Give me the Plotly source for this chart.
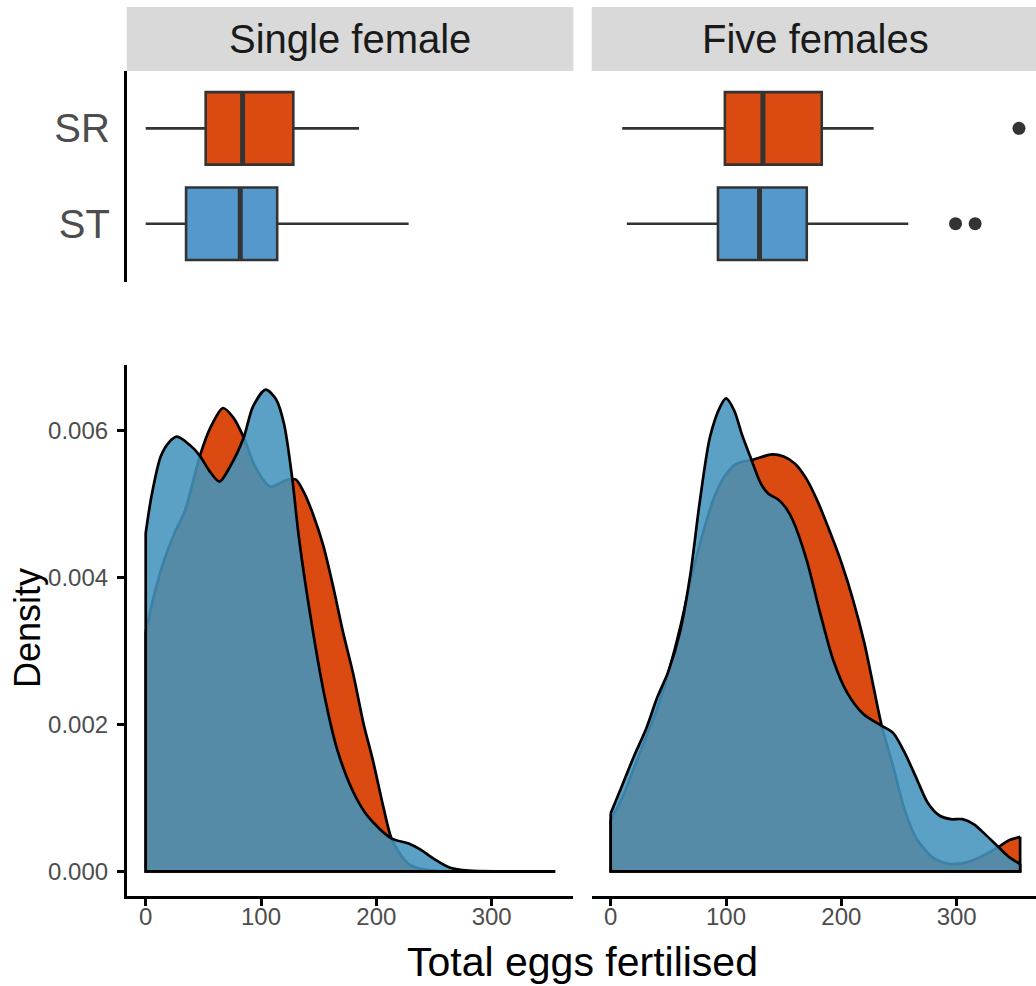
import plotly.graph_objects as go

# ---- data -----------------------------------------------------------------
groups = ["SR", "ST"]
facets = ["Single female", "Five females"]

# boxplot summaries (total eggs fertilised)
single_sr_box = dict(lowerfence=0, q1=52, median=84, q3=128, upperfence=185)
single_st_box = dict(lowerfence=0, q1=35, median=82, q3=114, upperfence=228)
five_sr_box = dict(lowerfence=10, q1=99, median=132, q3=183, upperfence=228)
five_st_box = dict(lowerfence=14, q1=93, median=129, q3=170, upperfence=258)
five_sr_outliers = [354]
five_st_outliers = [299, 316]

# kernel density estimates, single female
single_sr_x = [0, 8, 16, 25, 34, 47, 56, 67, 76, 85, 95, 108, 122, 130, 137, 145,
               154, 163, 171, 180, 189, 197, 206, 213, 220, 228, 240, 260, 300, 355]
single_sr_y = [0.00326, 0.0038, 0.00423, 0.0046, 0.0049, 0.00565, 0.00603, 0.0063,
               0.00617, 0.0059, 0.0055, 0.00523, 0.00532, 0.00533, 0.00516, 0.00486,
               0.00443, 0.00384, 0.00326, 0.00268, 0.0020, 0.00151, 0.00088, 0.00045,
               0.00025, 0.0001, 0.00003, 0.0, 0.0, 0.0]
single_st_x = [0, 5, 13, 20, 27, 38, 47, 55, 64, 73, 85, 93, 104, 113, 120, 127,
               133, 144, 155, 166, 180, 193, 213, 228, 238, 250, 264, 280, 310, 355]
single_st_y = [0.0046, 0.0051, 0.00564, 0.00583, 0.00591, 0.0058, 0.00565, 0.00545,
               0.0053, 0.0055, 0.0059, 0.00632, 0.00655, 0.00642, 0.00608, 0.00535,
               0.00452, 0.00336, 0.00239, 0.00166, 0.00108, 0.00074, 0.00045, 0.00038,
               0.0003, 0.00017, 0.00005, 0.00001, 0.0, 0.0]

# kernel density estimates, five females
five_sr_x = [0, 10, 20, 30, 40, 50, 60, 70, 80, 90, 100, 110, 124, 130, 140, 150,
             160, 170, 180, 190, 200, 210, 220, 228, 235, 245, 255, 265, 280, 295,
             310, 325, 338, 345, 355]
five_sr_y = [0.0007, 0.001, 0.0014, 0.0018, 0.0022, 0.0027, 0.0033, 0.004, 0.0046,
             0.0051, 0.0054, 0.00555, 0.0056, 0.00563, 0.00567, 0.00564, 0.00554,
             0.00533, 0.00501, 0.00462, 0.0042, 0.0037, 0.0031, 0.0025, 0.00198,
             0.00142, 0.00083, 0.00045, 0.00018, 0.0001, 0.00013, 0.00023, 0.00035,
             0.00042, 0.00047]
five_st_x = [0, 10, 20, 31, 40, 50, 60, 69, 77, 86, 95, 100, 107, 114, 121, 130, 137,
             145, 152, 158, 170, 181, 193, 205, 219, 235, 245, 255, 265, 275, 285,
             295, 305, 315, 325, 335, 345, 355]
five_st_y = [0.00079, 0.00117, 0.00156, 0.00195, 0.00235, 0.00272, 0.00325, 0.00403,
             0.005, 0.0059, 0.00632, 0.00643, 0.00627, 0.00593, 0.00564, 0.00528,
             0.00513, 0.00506, 0.00494, 0.00477, 0.00423, 0.00355, 0.00287, 0.00243,
             0.00214, 0.00198, 0.00188, 0.00161, 0.00127, 0.00093, 0.00076, 0.00071,
             0.00071, 0.00064, 0.0005, 0.00035, 0.0002, 0.0001]

# ---- style ----------------------------------------------------------------
W, H = 1036, 986
FONT = "Liberation Sans, Arial, Helvetica, sans-serif"
SR_FILL = "#DB4A10"
ST_FILL = "#5599CC"
ST_DENS = "rgba(67,148,189,0.88)"
OUTLINE = "#333333"
TXT = "#4D4D4D"
LW_BOX = 2.6
LW_DENS = 2.7


def px_x(p):
    return p / W


def px_y(p):
    return 1 - p / H


# panel geometry in pixels
LEFT = (126.7, 573.3)
RIGHT = (591.7, 1036.0)
BOX_ROW = (71.0, 282.0)
DENS_ROW = (365.0, 896.0)
STRIP_ROW = (7.0, 71.0)

PX_PER_UNIT = 1.1533
X0_LEFT, X0_RIGHT = 145.7, 610.7
left_range = [(LEFT[0] - X0_LEFT) / PX_PER_UNIT, (LEFT[1] - X0_LEFT) / PX_PER_UNIT]
right_range = [(RIGHT[0] - X0_RIGHT) / PX_PER_UNIT, (RIGHT[1] - X0_RIGHT) / PX_PER_UNIT]

Y_ZERO_PX, PX_PER_002 = 871.4, 147.1
dens_range = [-(DENS_ROW[1] - Y_ZERO_PX) / PX_PER_002 * 0.002,
              (Y_ZERO_PX - DENS_ROW[0]) / PX_PER_002 * 0.002]
box_range = [-0.611, 1.601]

fig = go.Figure()


def add_box(stats, group, fill, xa, ya):
    fig.add_trace(go.Box(
        y=[group], q1=[stats["q1"]], median=[stats["median"]], q3=[stats["q3"]],
        lowerfence=[stats["lowerfence"]], upperfence=[stats["upperfence"]],
        orientation="h", fillcolor=fill, line=dict(color=OUTLINE, width=LW_BOX),
        whiskerwidth=0, width=0.76, boxpoints=False, xaxis=xa, yaxis=ya,
        showlegend=False, hoverinfo="skip"))
    m = stats["median"]
    # heavier median bar
    fig.add_trace(go.Box(
        y=[group], q1=[m], median=[m], q3=[m], lowerfence=[m], upperfence=[m],
        orientation="h", fillcolor="rgba(0,0,0,0)", line=dict(color=OUTLINE, width=5),
        whiskerwidth=0, width=0.74, boxpoints=False, xaxis=xa, yaxis=ya,
        showlegend=False, hoverinfo="skip"))


def add_outliers(vals, group, xa, ya):
    fig.add_trace(go.Scatter(
        x=vals, y=[group] * len(vals), mode="markers",
        marker=dict(color=OUTLINE, size=13), xaxis=xa, yaxis=ya,
        showlegend=False, hoverinfo="skip"))


def add_density(xs, ys, fill, xa, ya):
    fig.add_trace(go.Scatter(
        x=xs, y=ys, mode="lines", fill="tozeroy", fillcolor=fill,
        line=dict(color="black", width=LW_DENS, shape="spline", smoothing=0.8),
        xaxis=xa, yaxis=ya, showlegend=False, hoverinfo="skip"))
    # closing edges and baseline of the density polygon
    fig.add_trace(go.Scatter(
        x=[xs[0], xs[0], xs[-1], xs[-1]], y=[ys[0], 0, 0, ys[-1]], mode="lines",
        line=dict(color="black", width=LW_DENS), xaxis=xa, yaxis=ya,
        showlegend=False, hoverinfo="skip"))


# boxplots
add_box(single_sr_box, "SR", SR_FILL, "x", "y")
add_box(single_st_box, "ST", ST_FILL, "x", "y")
add_box(five_sr_box, "SR", SR_FILL, "x2", "y2")
add_box(five_st_box, "ST", ST_FILL, "x2", "y2")
add_outliers(five_sr_outliers, "SR", "x2", "y2")
add_outliers(five_st_outliers, "ST", "x2", "y2")

# densities
add_density(single_sr_x, single_sr_y, SR_FILL, "x3", "y3")
add_density(single_st_x, single_st_y, ST_DENS, "x3", "y3")
add_density(five_sr_x, five_sr_y, SR_FILL, "x4", "y4")
add_density(five_st_x, five_st_y, ST_DENS, "x4", "y4")

hidden = dict(showline=False, showgrid=False, zeroline=False, showticklabels=False,
              ticks="")
axis_line = dict(showline=True, linecolor="black", linewidth=2.6, showgrid=False,
                 zeroline=False)
xtick = dict(tickvals=[0, 100, 200, 300], ticks="outside", ticklen=7, tickwidth=2.6,
             tickcolor="black", tickfont=dict(size=24, color=TXT), ticklabelstandoff=-10)

layout = dict(
    width=W, height=H, margin=dict(l=0, r=0, t=0, b=0),
    paper_bgcolor="white", plot_bgcolor="rgba(0,0,0,0)",
    boxmode="overlay", showlegend=False,
    font=dict(family=FONT, color=TXT),
    xaxis=dict(domain=[px_x(LEFT[0]), px_x(LEFT[1])], range=left_range, **hidden),
    yaxis=dict(domain=[px_y(BOX_ROW[1]), px_y(BOX_ROW[0])], type="category",
               categoryorder="array", categoryarray=["ST", "SR"], range=box_range,
               ticks="", tickfont=dict(size=40, color=TXT), ticklabelstandoff=6,
               anchor="x", **axis_line),
    xaxis2=dict(domain=[px_x(RIGHT[0]), px_x(RIGHT[1])], range=right_range, **hidden),
    yaxis2=dict(domain=[px_y(BOX_ROW[1]), px_y(BOX_ROW[0])], type="category",
                categoryorder="array", categoryarray=["ST", "SR"], range=box_range,
                anchor="x2", **hidden),
    xaxis3=dict(domain=[px_x(LEFT[0]), px_x(LEFT[1])], range=left_range, anchor="y3",
                **xtick, **axis_line),
    yaxis3=dict(domain=[px_y(DENS_ROW[1]), px_y(DENS_ROW[0])], range=dens_range,
                anchor="x3", tickvals=[0, 0.002, 0.004, 0.006], tickformat=".3f",
                ticks="outside", ticklen=7, tickwidth=2.6, tickcolor="black",
                tickfont=dict(size=24, color=TXT), ticklabelstandoff=4, **axis_line),
    xaxis4=dict(domain=[px_x(RIGHT[0]), px_x(RIGHT[1])], range=right_range, anchor="y4",
                **xtick, **axis_line),
    yaxis4=dict(domain=[px_y(DENS_ROW[1]), px_y(DENS_ROW[0])], range=dens_range,
                anchor="x4", **hidden),
)
fig.update_layout(**layout)

# facet strips
for (x0, x1), label in zip([LEFT, RIGHT], facets):
    fig.add_shape(type="rect", xref="paper", yref="paper",
                  x0=px_x(x0), x1=px_x(x1), y0=px_y(STRIP_ROW[1]), y1=px_y(STRIP_ROW[0]),
                  fillcolor="#D9D9D9", line=dict(width=0), layer="below")
    fig.add_annotation(text=label, xref="paper", yref="paper",
                       x=px_x((x0 + (x1 if x1 < W else 1038.3)) / 2),
                       y=px_y((STRIP_ROW[0] + STRIP_ROW[1]) / 2),
                       showarrow=False, xanchor="center", yanchor="middle",
                       font=dict(size=40, color="#1A1A1A", family=FONT))

# axis titles
fig.add_annotation(text="Total eggs fertilised", xref="paper", yref="paper",
                   x=px_x(582.5), y=px_y(962), showarrow=False,
                   xanchor="center", yanchor="middle",
                   font=dict(size=41, color="black", family=FONT))
fig.add_annotation(text="Density", xref="paper", yref="paper",
                   x=px_x(27), y=px_y(628), showarrow=False, textangle=-90,
                   xanchor="center", yanchor="middle",
                   font=dict(size=36, color="black", family=FONT))

fig.write_html("out.html")
